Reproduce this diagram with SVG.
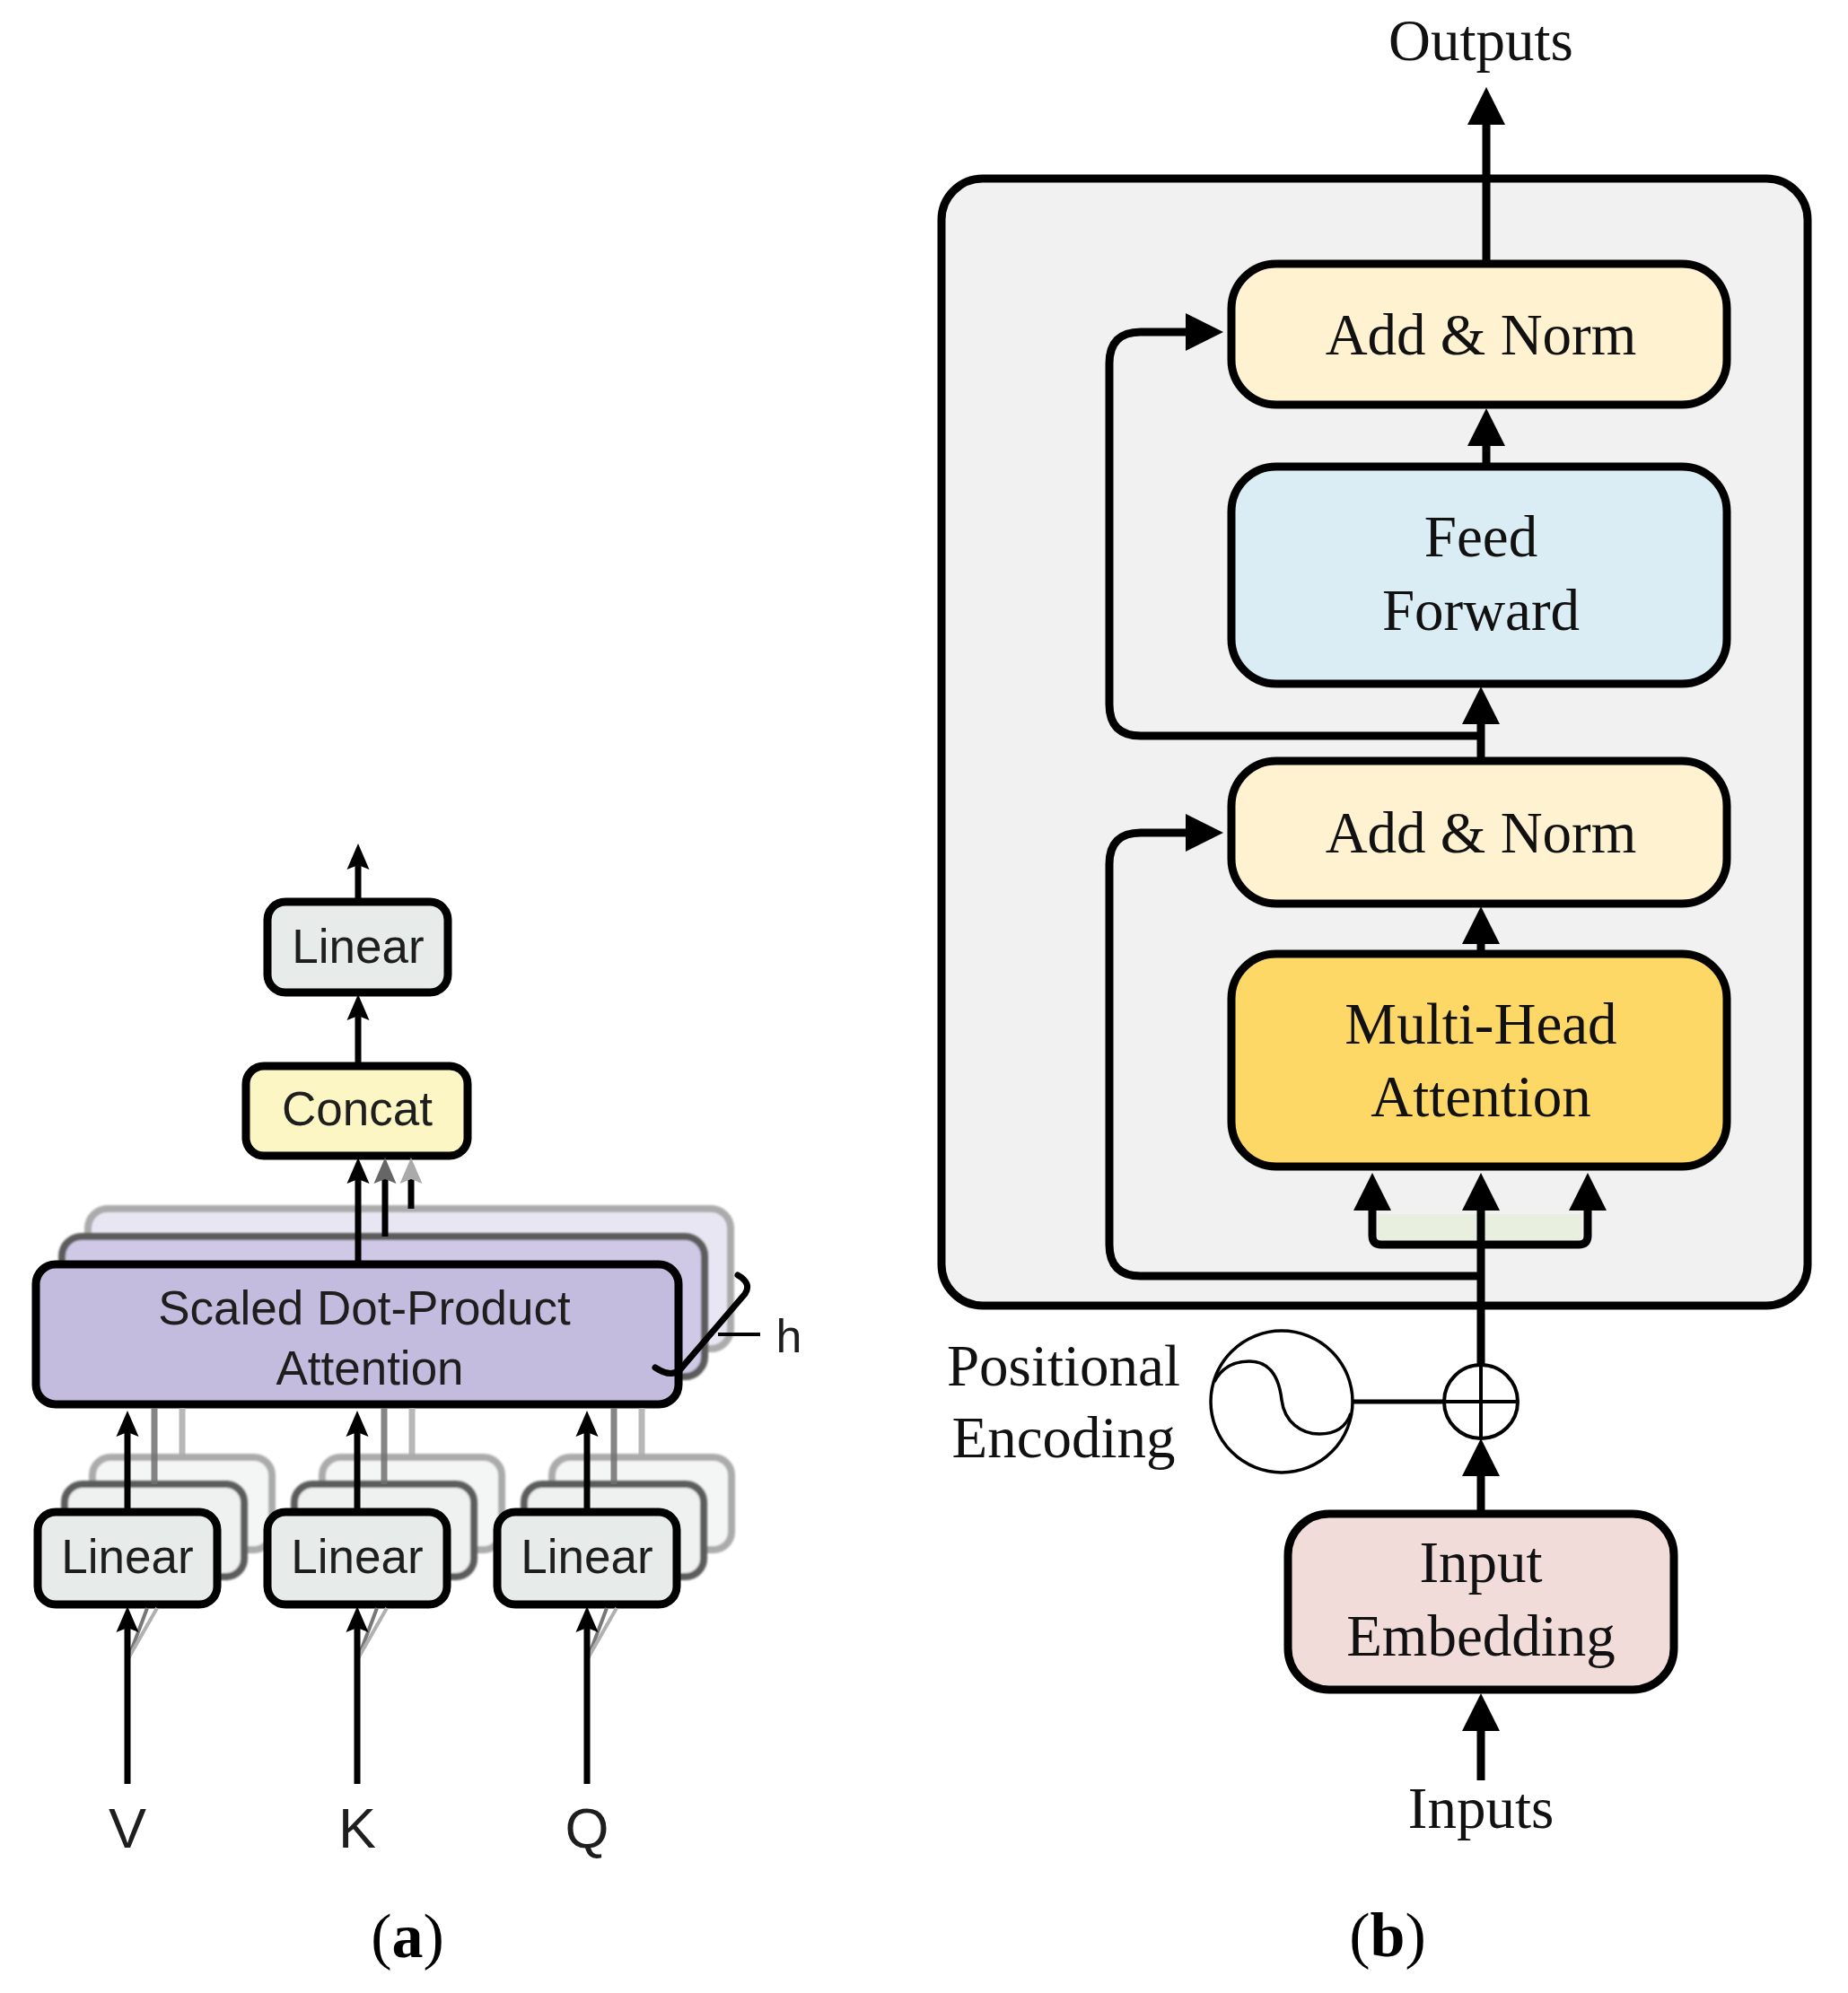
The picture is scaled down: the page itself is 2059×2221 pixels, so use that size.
<svg xmlns="http://www.w3.org/2000/svg" width="2059" height="2221" viewBox="0 0 2059 2221">
<defs>
<style>
.sa{font-family:"Liberation Sans",Arial,sans-serif;fill:#1e1e1e;text-anchor:middle}
.sb{font-family:"Liberation Serif","Times New Roman",serif;fill:#111;text-anchor:middle;font-size:65px}
.cap{font-family:"Liberation Serif","Times New Roman",serif;fill:#000;text-anchor:middle;font-size:70px}
.box{stroke:#000;stroke-width:9}
.lin{fill:#e7eceb}
.mid{stroke:#5c5c5c;stroke-width:8}
.back{stroke:#ababab;stroke-width:8}
.la{fill:none;stroke:#000;stroke-width:7}
.lb{fill:none;stroke:#000;stroke-width:9}
</style>
<filter id="soft" x="-5%" y="-5%" width="110%" height="110%"><feGaussianBlur stdDeviation="1.3"/></filter>
<marker id="ab" viewBox="0 -21 42 42" refX="4" refY="0" markerWidth="42" markerHeight="42" markerUnits="userSpaceOnUse" orient="auto"><path d="M0,-21 L42,0 L0,21 Z" fill="#000"/></marker>
<marker id="aa" viewBox="0 -13 29 26" refX="6" refY="0" markerWidth="29" markerHeight="26" markerUnits="userSpaceOnUse" orient="auto"><path d="M0,-12.5 L29,0 L0,12.5 L5,0 Z" fill="#000"/></marker>
<marker id="aag" viewBox="0 -13 29 26" refX="6" refY="0" markerWidth="29" markerHeight="26" markerUnits="userSpaceOnUse" orient="auto"><path d="M0,-12.5 L29,0 L0,12.5 L5,0 Z" fill="#666"/></marker>
<marker id="aal" viewBox="0 -13 29 26" refX="6" refY="0" markerWidth="29" markerHeight="26" markerUnits="userSpaceOnUse" orient="auto"><path d="M0,-12.5 L29,0 L0,12.5 L5,0 Z" fill="#aaa"/></marker>
</defs>
<rect x="0" y="0" width="2059" height="2221" fill="#fff"/>

<!-- ============ Panel (a) ============ -->
<g id="a-linear-out">
<rect class="box lin" x="298" y="1005" width="201" height="101" rx="20"/>
<text class="sa" x="399" y="1073" font-size="53">Linear</text>
</g>
<g id="a-concat">
<rect class="box" fill="#fcf6c4" x="274" y="1188" width="247" height="100" rx="20"/>
<text class="sa" x="398" y="1254" font-size="53">Concat</text>
</g>
<g id="a-sdpa">
<rect class="back" fill="#e8e6f3" x="98" y="1347" width="716" height="156" rx="22" filter="url(#soft)"/>
<rect class="mid" fill="#cfc9e6" x="69" y="1378" width="716" height="156" rx="22" filter="url(#soft)"/>
<rect class="box" fill="#c4bcde" x="40" y="1409" width="716" height="156" rx="22"/>
<text class="sa" x="406" y="1476" font-size="53">Scaled Dot-Product</text>
<text class="sa" x="412" y="1543" font-size="53">Attention</text>
</g>
<g id="a-h">
<path d="M822,1421 Q838,1430 830,1442 L758,1526 Q748,1536 730,1524" fill="none" stroke="#000" stroke-width="7" stroke-linecap="round"/>
<line x1="800" y1="1487" x2="847" y2="1487" stroke="#000" stroke-width="4"/>
<text class="sa" x="879" y="1507" font-size="52">h</text>
</g>
<g id="a-linear-v">
<rect class="back" fill="#f4f6f5" x="103" y="1624" width="200" height="103" rx="20" filter="url(#soft)"/>
<rect class="mid" fill="#eef1f0" x="72" y="1654" width="200" height="103" rx="20" filter="url(#soft)"/>
<rect class="box lin" x="42" y="1685" width="200" height="103" rx="20"/>
<text class="sa" x="142" y="1753" font-size="53">Linear</text>
</g>
<g id="a-linear-k">
<rect class="back" fill="#f4f6f5" x="359" y="1624" width="200" height="103" rx="20" filter="url(#soft)"/>
<rect class="mid" fill="#eef1f0" x="328" y="1654" width="200" height="103" rx="20" filter="url(#soft)"/>
<rect class="box lin" x="298" y="1685" width="200" height="103" rx="20"/>
<text class="sa" x="398" y="1753" font-size="53">Linear</text>
</g>
<g id="a-linear-q">
<rect class="back" fill="#f4f6f5" x="615" y="1624" width="200" height="103" rx="20" filter="url(#soft)"/>
<rect class="mid" fill="#eef1f0" x="584" y="1654" width="200" height="103" rx="20" filter="url(#soft)"/>
<rect class="box lin" x="554" y="1685" width="200" height="103" rx="20"/>
<text class="sa" x="654" y="1753" font-size="53">Linear</text>
</g>
<g id="a-labels">
<text class="sa" x="142" y="2059" font-size="63">V</text>
<text class="sa" x="398" y="2059" font-size="63">K</text>
<text class="sa" x="654" y="2059" font-size="63">Q</text>
<text class="cap" x="454" y="2181">(<tspan font-weight="bold">a</tspan>)</text>
</g>

<!-- ============ Panel (b) ============ -->
<g id="b-encoder">
<rect x="1049" y="199" width="965" height="1256" rx="46" fill="#f1f1f1" stroke="#000" stroke-width="9"/>
<rect x="1535" y="1353" width="227" height="30" fill="#e8efdf"/>
</g>
<g id="b-addnorm-top">
<rect class="box" fill="#fef2d0" x="1372" y="294" width="552" height="157" rx="50"/>
<text class="sb" x="1650" y="395">Add &amp; Norm</text>
</g>
<g id="b-feedforward">
<rect class="box" fill="#dbedf4" x="1372" y="520" width="552" height="242" rx="50"/>
<text class="sb" x="1650" y="620">Feed</text>
<text class="sb" x="1650" y="702">Forward</text>
</g>
<g id="b-addnorm-bottom">
<rect class="box" fill="#fef2d0" x="1372" y="848" width="552" height="159" rx="50"/>
<text class="sb" x="1650" y="950">Add &amp; Norm</text>
</g>
<g id="b-mha">
<rect class="box" fill="#fed866" x="1372" y="1063" width="552" height="237" rx="50"/>
<text class="sb" x="1650" y="1163">Multi-Head</text>
<text class="sb" x="1650" y="1244">Attention</text>
</g>
<g id="b-pe">
<circle cx="1428" cy="1562" r="79" fill="none" stroke="#000" stroke-width="3.5"/>
<path d="M1353,1540 C1362,1522 1378,1517 1392,1517 C1420,1517 1426,1543 1428,1560 C1431,1585 1450,1598 1470,1598 C1488,1598 1500,1590 1505,1575" fill="none" stroke="#000" stroke-width="3.5"/>
<text class="sb" x="1185" y="1544">Positional</text>
<text class="sb" x="1185" y="1624">Encoding</text>
</g>
<g id="b-add">
<circle cx="1650" cy="1562" r="41" fill="#fff" stroke="#000" stroke-width="4"/>
<line x1="1609" y1="1562" x2="1691" y2="1562" stroke="#000" stroke-width="4"/>
<line x1="1650" y1="1521" x2="1650" y2="1603" stroke="#000" stroke-width="4"/>
</g>
<g id="b-embedding">
<rect class="box" fill="#f2dcda" x="1435" y="1687" width="430" height="196" rx="46"/>
<text class="sb" x="1650" y="1763">Input</text>
<text class="sb" x="1650" y="1845">Embedding</text>
</g>
<g id="b-labels">
<text class="sb" x="1650" y="67" font-size="66">Outputs</text>
<text class="sb" x="1650" y="2037">Inputs</text>
<text class="cap" x="1546" y="2180">(<tspan font-weight="bold">b</tspan>)</text>
</g>

<!-- ============ Connectors ============ -->
<g id="connectors">
<!-- panel a -->
<path class="la" d="M399,1005 V963" marker-end="url(#aa)"/>
<path class="la" d="M399,1188 V1131" marker-end="url(#aa)"/>
<path class="la" d="M399,1409 V1313" marker-end="url(#aa)"/>
<path class="la" d="M429,1378 V1313" stroke="#666" marker-end="url(#aag)"/>
<path class="la" d="M458,1347 V1313" stroke="#aaa" marker-end="url(#aal)"/>
<path class="la" d="M142,1685 V1595" marker-end="url(#aa)"/>
<path class="la" d="M398,1685 V1595" marker-end="url(#aa)"/>
<path class="la" d="M654,1685 V1595" marker-end="url(#aa)"/>
<path d="M172,1569 V1654 M428,1569 V1654 M684,1569 V1654" fill="none" stroke="#707070" stroke-width="7" opacity="0.85"/>
<path d="M203,1569 V1624 M459,1569 V1624 M715,1569 V1624" fill="none" stroke="#ababab" stroke-width="7" opacity="0.85"/>
<path d="M143,1848 L164,1792 M399,1848 L420,1792 M655,1848 L676,1792" fill="none" stroke="#777" stroke-width="4"/>
<path d="M143,1848 L175,1792 M399,1848 L431,1792 M655,1848 L687,1792" fill="none" stroke="#b0b0b0" stroke-width="4"/>
<path class="la" d="M142,1988 V1813" marker-end="url(#aa)"/>
<path class="la" d="M398,1988 V1813" marker-end="url(#aa)"/>
<path class="la" d="M654,1988 V1813" marker-end="url(#aa)"/>
<!-- panel b -->
<path class="lb" d="M1656,294 V135" marker-end="url(#ab)"/>
<path class="lb" d="M1656,520 V493" marker-end="url(#ab)"/>
<path class="lb" d="M1650,848 V803" marker-end="url(#ab)"/>
<path class="lb" d="M1650,1063 V1048" marker-end="url(#ab)"/>
<path class="lb" d="M1650,1521 V1345" marker-end="url(#ab)"/>
<path class="lb" d="M1650,1387 H1539 Q1529,1387 1529,1377 V1345" marker-end="url(#ab)"/>
<path class="lb" d="M1650,1387 H1759 Q1769,1387 1769,1377 V1345" marker-end="url(#ab)"/>
<path class="lb" d="M1650,820 H1271 Q1236,820 1236,785 V405 Q1236,370 1271,370 H1325" marker-end="url(#ab)"/>
<path class="lb" d="M1650,1422 H1271 Q1236,1422 1236,1387 V963 Q1236,928 1271,928 H1325" marker-end="url(#ab)"/>
<path d="M1507,1562 H1609" stroke="#000" stroke-width="5"/>
<path class="lb" d="M1650,1687 V1641" marker-end="url(#ab)"/>
<path class="lb" d="M1650,1984 V1925" marker-end="url(#ab)"/>
</g>
</svg>
